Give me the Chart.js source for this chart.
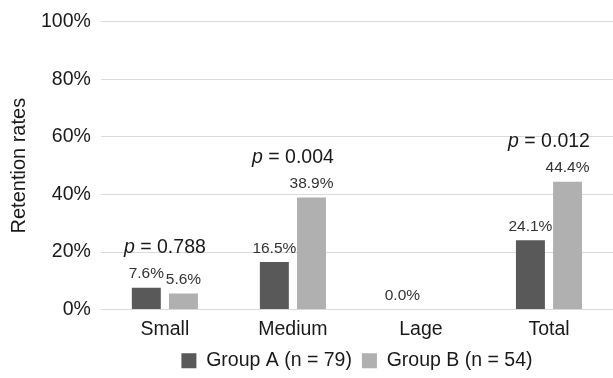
<!DOCTYPE html>
<html>
<head>
<meta charset="utf-8">
<script src="https://cdn.jsdelivr.net/npm/chart.js@4.4.0/dist/chart.umd.min.js"></script>
<style>
  body { margin: 0; background: #fff; }
  #wrap { width: 613px; height: 378px; position: relative; }
</style>
</head>
<body>
<div id="wrap"><canvas id="myChart"></canvas></div>
<script>
const categories = ["Small", "Medium", "Lage", "Total"]
const groupA = [7.6, 16.5, 0.0, 24.1]
const groupB = [5.6, 38.9, null, 44.4]
const pValues = ["0.788", "0.004", null, "0.012"]
const yTicks = [0, 20, 40, 60, 80, 100]

const FONT = "'Liberation Sans', Arial, sans-serif"

// value labels above bars + p-value notes above each group
const barLabels = {
    id: 'barLabels',
    afterLayout(chart) {
        // center the legend under the plot area, like the original
        const lg = chart.legend
        lg.left = chart.chartArea.left
        lg.right = chart.chartArea.right
        lg.top -= 8
        lg.bottom = chart.height
    },
    afterDatasetsDraw(chart) {
        const ctx = chart.ctx
        const yScale = chart.scales.y
        ctx.save()
        ctx.textAlign = 'center'
        ctx.textBaseline = 'bottom'
        ctx.font = '15.5px ' + FONT
        ctx.fillStyle = '#333333'
        chart.data.datasets.forEach((ds, di) => {
            const meta = chart.getDatasetMeta(di)
            meta.data.forEach((bar, i) => {
                const v = ds.data[i]
                if (v === null) return
                ctx.fillText(v.toFixed(1) + '%', bar.x, bar.y - 6)
            })
        })

        pValues.forEach((p, i) => {
            if (!p) return
            const top = Math.max(groupA[i] || 0, groupB[i] || 0)
            const y = yScale.getPixelForValue(top) - 30
            const metaA = chart.getDatasetMeta(0).data[i]
            const metaB = chart.getDatasetMeta(1).data[i]
            const cx = (metaA.x + metaB.x) / 2
            const rest = ' = ' + p
            ctx.font = 'italic 19.5px ' + FONT
            const wp = ctx.measureText('p').width
            ctx.font = '19.5px ' + FONT
            const wr = ctx.measureText(rest).width
            const x0 = cx - (wp + wr) / 2
            ctx.fillStyle = '#1a1a1a'
            ctx.textAlign = 'left'
            ctx.font = 'italic 19.5px ' + FONT
            ctx.fillText('p', x0, y)
            ctx.font = '19.5px ' + FONT
            ctx.fillText(rest, x0 + wp, y)
        })
        ctx.restore()
    }
}

const ctx = document.getElementById('myChart').getContext('2d')

const myChart = new Chart(ctx, {
    type: 'bar',
    data: {
        labels: categories,
        datasets: [
            {
                label: "Group A (n = 79)",
                data: groupA,
                backgroundColor: "#595959",
            },
            {
                label: "Group B (n = 54)",
                data: groupB,
                backgroundColor: "#b0b0b0",
            },
        ],
    },
    options: {
        responsive: true,
        maintainAspectRatio: false,
        animation: false,
        categoryPercentage: 0.58,
        barPercentage: 0.78,
        layout: { padding: { top: 8, right: 0, left: 0, bottom: 4 } },
        plugins: {
            tooltip: { enabled: false },
            legend: {
                position: 'bottom',
                maxHeight: 25,
                labels: {
                    boxWidth: 15,
                    boxHeight: 15,
                    padding: 10,
                    color: '#1a1a1a',
                    font: { family: FONT, size: 19.5 },
                },
            },
        },
        scales: {
            x: {
                grid: { display: false, drawTicks: false },
                border: { display: false },
                ticks: {
                    color: '#1a1a1a',
                    font: { family: FONT, size: 19.5 },
                    padding: 8,
                },
            },
            y: {
                min: 0,
                max: 100,
                afterBuildTicks(axis) {
                    axis.ticks = yTicks.map(v => ({ value: v }))
                },
                grid: { color: '#d9d9d9', drawTicks: false, lineWidth: 1 },
                border: { display: false },
                ticks: {
                    color: '#1a1a1a',
                    font: { family: FONT, size: 19.5 },
                    padding: 10,
                    callback: v => v + '%',
                },
                title: {
                    display: true,
                    text: 'Retention rates',
                    color: '#1a1a1a',
                    font: { family: FONT, size: 20 },
                    padding: { top: 7, bottom: 0 },
                },
            },
        },
    },
    plugins: [barLabels],
});
</script>
</body>
</html>
